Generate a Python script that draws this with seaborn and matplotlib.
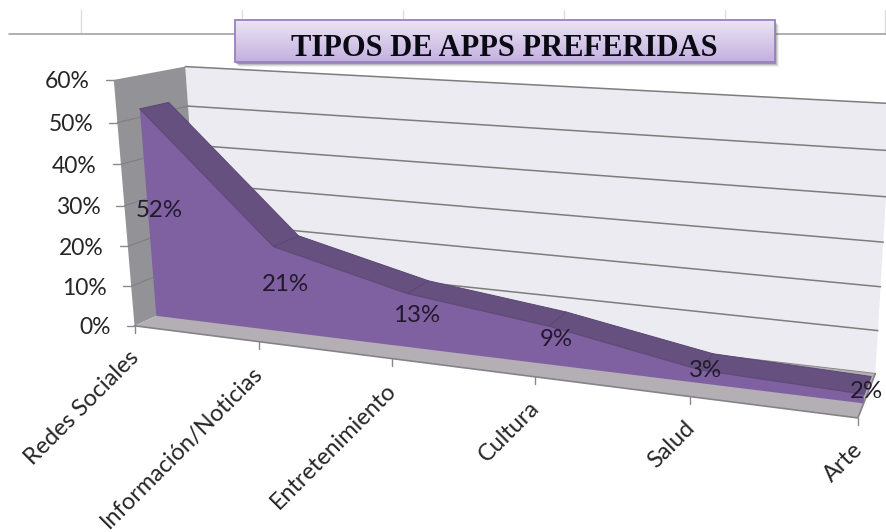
import numpy as np
import pandas as pd
import matplotlib
matplotlib.use("Agg")
import matplotlib.pyplot as plt
from matplotlib.patches import Rectangle
import seaborn as sns

# ---- chart values -------------------------------------------------------
categories = ["Redes Sociales", "Información/Noticias", "Entretenimiento",
              "Cultura", "Salud", "Arte"]
percent = [52, 21, 13, 9, 3, 2]
y_ticks = [0, 10, 20, 30, 40, 50, 60]
title = "TIPOS DE APPS PREFERIDAS"

# ---- perspective calibration: (category, value, depth) -> pixel ----------
calib = [
    (0, 0, 0, 134, 325), (0, 10, 0, 131, 285), (0, 20, 0, 128, 245),
    (0, 30, 0, 125, 205), (0, 40, 0, 121, 164), (0, 50, 0, 118, 122),
    (0, 60, 0, 115, 82),
    (1, 0, 0, 257, 342), (2, 0, 0, 391, 360), (3, 0, 0, 535, 379),
    (4, 0, 0, 690, 395), (5, 0, 0, 859, 419),
    (0, 60, 1, 184, 66), (0, 50, 1, 187, 105), (0, 40, 1, 190, 144.5),
    (0, 30, 1, 193, 183.5), (0, 20, 1, 197, 221), (0, 0, 1, 204, 299),
    (5, 0, 1, 874, 372), (5, 10, 1, 878, 329), (5, 20, 1, 881, 286),
    (5, 30, 1, 884, 242), (5, 40, 1, 886, 197), (5, 60, 1, 892, 106),
]
A, b = [], []
for c, v, w, px, py in calib:
    A.append([c, v, w, 1, 0, 0, 0, 0, -px * c, -px * v, -px * w]); b.append(px)
    A.append([0, 0, 0, 0, c, v, w, 1, -py * c, -py * v, -py * w]); b.append(py)
m = np.linalg.lstsq(np.array(A, float), np.array(b, float), rcond=None)[0]
M = np.append(m, 1.0).reshape(3, 4)


def P(c, v, w):
    c, v, w = np.broadcast_arrays(np.asarray(c, float), np.asarray(v, float), np.asarray(w, float))
    q = M @ np.vstack([c.ravel(), v.ravel(), w.ravel(), np.ones(c.size)])
    return q[0] / q[2], q[1] / q[2]


def line(c, v, w, color, lw, z):
    x, y = P(c, v, w)
    sns.lineplot(x=x, y=y, sort=False, estimator=None, color=color, linewidth=lw,
                 zorder=z, ax=ax, legend=False)


def face(c, v, w, color, z, edge="none", lw=0):
    x, y = P(c, v, w)
    ax.fill(x, y, facecolor=color, edgecolor=edge, linewidth=lw, zorder=z)


sns.set_theme(style="white")
plt.rcParams["font.family"] = ["Lato", "DejaVu Sans"]
fig = plt.figure(figsize=(8.86, 5.32), dpi=100)
ax = fig.add_axes([0, 0, 1, 1])

n = len(categories) - 1
W_FRONT, W_BACK = 0.31, 0.72
vmax = max(y_ticks)

# worksheet remnants behind the title
for x0 in [81, 242, 403, 564, 725, 885]:
    ax.plot([x0, x0], [10, 33], color="#dedede", lw=1.0, zorder=1)
ax.plot([9, 886], [33.5, 33.5], color="#a3a3a3", lw=1.2, zorder=1)

# walls and floor
face([0, n, n, 0], [0, 0, vmax, vmax], [1, 1, 1, 1], "#ecebf1", 2)
for t in y_ticks:
    line([0, n], [t, t], [1, 1], "#7d7d7d", 1.1, 3)
face([0, 0, 0, 0], [0, vmax, vmax, 0], [0, 0, 1, 1], "#939297", 4)
for t in y_ticks[1:-1]:
    line([0, 0], [t, t], [0, 1], "#7f7e83", 0.8, 4.5)
face([0, n, n, 0], [0, 0, 0, 0], [0, 0, 1, 1], "#b3afb5", 5)
line([0, n, n], [0, 0, 0], [0, 0, 1], "#85838a", 1.2, 5.5)

# area: top faces, then front face
idx = np.arange(len(percent))
for i in range(n):
    face([i, i + 1, i + 1, i],
         [percent[i], percent[i + 1], percent[i + 1], percent[i]],
         [W_FRONT, W_FRONT, W_BACK, W_BACK], "#65507f", 6, "#5b4774", 0.7)
face(np.r_[idx, n, 0], np.r_[percent, 0, 0], np.full(len(percent) + 2, W_FRONT), "#7f60a0", 7)
line(idx, percent, np.full(len(percent), W_FRONT), "#5f4a78", 0.8, 7.5)

# value axis
for t in y_ticks:
    x, y = P(0, t, 0)
    ax.plot([x[0] - 8, x[0]], [y[0], y[0]], color="#8a8a8a", lw=1.0, zorder=5)
    ax.text(x[0] - 24, y[0] + 2, f"{t}%", ha="right", va="center", fontsize=16.5,
            color="#262626", zorder=9)

# category axis
for i, name in enumerate(categories):
    x, y = P(i, 0, 0)
    ax.plot([x[0], x[0]], [y[0], y[0] + 7], color="#8a8a8a", lw=1.0, zorder=5)
    ax.text(x[0] + 1, y[0] + 28, name, rotation=45, rotation_mode="anchor",
            ha="right", va="center", fontsize=16.9, color="#262626", zorder=9)

# data labels
for i, val in enumerate(percent):
    x, y = P(i, val / 2, 0.47)
    ax.text(x[0], y[0], f"{val}%", ha="center", va="center", fontsize=17.3,
            color="#221a2c", zorder=10)

# title box
for k, a in zip([5, 4, 3, 2], [0.08, 0.12, 0.2, 0.3]):
    ax.add_patch(Rectangle((235 + k - 1, 20 + k), 540, 42, facecolor="#444444",
                           edgecolor="none", alpha=a, zorder=11))
grad = np.linspace(0, 1, 64)[:, None, None]
top = np.array([0.925, 0.898, 0.957])
bot = np.array([0.765, 0.690, 0.875])
ax.imshow(top + (bot - top) * grad, extent=(235.5, 775.5, 62, 20), aspect="auto", zorder=12)
ax.add_patch(Rectangle((235.5, 20), 540, 42, facecolor="none", edgecolor="#9a80bf",
                       lw=1.3, zorder=13))
ax.text(504.5, 49, title, ha="center", va="center", fontsize=22, fontweight="bold",
        family="Liberation Serif", color="#0a0a14", zorder=14)

ax.set_xlim(0, 886)
ax.set_ylim(532, 0)
ax.axis("off")
fig.savefig("out.png", dpi=100, facecolor="white")
